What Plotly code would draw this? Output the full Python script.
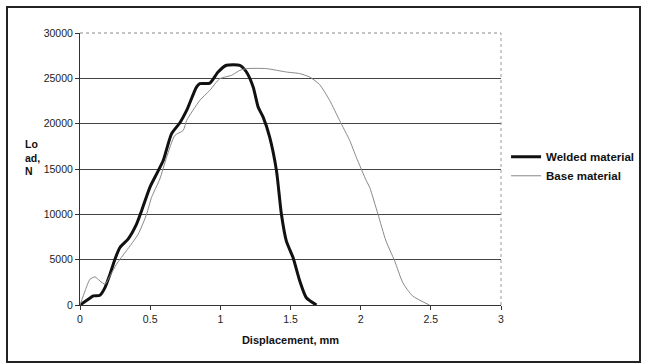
import plotly.graph_objects as go

welded_x = [0, 0.059, 0.095, 0.142, 0.178, 0.214, 0.249, 0.285, 0.344, 0.403, 0.439, 0.498,
            0.546, 0.593, 0.652, 0.712, 0.76, 0.83, 0.854, 0.925, 0.984, 1.044, 1.139, 1.186,
            1.234, 1.27, 1.305, 1.352, 1.40, 1.435, 1.47, 1.518, 1.566, 1.613, 1.685]
welded_y = [0, 630, 1000, 1070, 1910, 3400, 5050, 6340, 7300, 8920, 10400, 12980,
            14460, 15930, 18880, 20100, 21460, 24040, 24410, 24470, 25700, 26440, 26440, 25700,
            24040, 21800, 20720, 18500, 14820, 10030, 7080, 5230, 2650, 800, 0]

base_x = [0, 0.036, 0.071, 0.107, 0.142, 0.178, 0.214, 0.26, 0.33, 0.415, 0.475, 0.51, 0.569,
          0.617, 0.676, 0.735, 0.76, 0.854, 0.925, 0.996, 1.08, 1.139, 1.186, 1.329, 1.47,
          1.566, 1.637, 1.708, 1.779, 1.85, 1.922, 1.969, 2.04, 2.064, 2.123, 2.18, 2.242,
          2.30, 2.37, 2.49]
base_y = [0, 1550, 2840, 3100, 2650, 2290, 3210, 4500, 5970, 7820, 10030, 11870, 13900,
          16290, 18700, 19250, 20350, 22570, 23670, 24960, 25330, 25880, 26070, 26070, 25700,
          25520, 25140, 24300, 22570, 20350, 18140, 16290, 13720, 12980, 10030, 7080, 4870,
          2470, 1000, 0]

x_ticks = [0, 0.5, 1, 1.5, 2, 2.5, 3]
y_ticks = [0, 5000, 10000, 15000, 20000, 25000, 30000]

fig = go.Figure()
fig.add_trace(go.Scatter(x=welded_x, y=welded_y, mode="lines", name="<b>Welded material</b>",
                         line=dict(color="#111111", width=3, shape="spline", smoothing=0.6)))
fig.add_trace(go.Scatter(x=base_x, y=base_y, mode="lines", name="<b>Base material</b>",
                         line=dict(color="#888888", width=1, shape="spline", smoothing=0.6)))

fig.update_layout(
    width=645, height=364,
    margin=dict(l=80, r=144, t=33, b=59, autoexpand=False),
    paper_bgcolor="white", plot_bgcolor="white",
    font=dict(family="Arial, Liberation Sans, sans-serif", size=10.5, color="#222222"),
    showlegend=True,
    legend=dict(x=1.012, y=0.51, xanchor="left", yanchor="middle",
                font=dict(size=11.5, color="#111111", family="Arial, Liberation Sans, sans-serif"),
                bgcolor="rgba(0,0,0,0)", tracegroupgap=2),
    xaxis=dict(range=[0, 3], tickvals=x_ticks, ticktext=[str(v) for v in x_ticks],
               showgrid=False, zeroline=False, showline=True, linecolor="#333333", linewidth=1,
               ticks="outside", ticklen=4, tickcolor="#333333",
               title=dict(text="<b>Displacement, mm</b>", font=dict(size=11, color="#111111"), standoff=12)),
    yaxis=dict(range=[0, 30000], tickvals=y_ticks, ticktext=[str(v) for v in y_ticks],
               showgrid=True, gridcolor="#444444", gridwidth=1, zeroline=False,
               showline=True, linecolor="#333333", linewidth=1,
               ticks="outside", ticklen=4, tickcolor="#333333"),
    shapes=[
        dict(type="line", xref="paper", yref="paper", x0=0.002, x1=1, y0=1, y1=1,
             line=dict(color="white", width=2)),
        dict(type="line", xref="paper", yref="paper", x0=0, x1=1, y0=1, y1=1,
             line=dict(color="#888888", width=1, dash="dot")),
        dict(type="line", xref="paper", yref="paper", x0=1, x1=1, y0=0, y1=1,
             line=dict(color="#999999", width=1, dash="dot")),
        dict(type="rect", xref="paper", yref="paper",
             x0=(7 - 80) / 421, x1=(640 - 80) / 421, y0=(305 - 362) / 272, y1=(305 - 7) / 272,
             line=dict(color="#222222", width=2)),
    ],
    annotations=[
        dict(text="<b>Lo<br>ad,<br>N</b>", xref="paper", yref="paper",
             x=(23 - 80) / 421, y=(305 - 157) / 272, xanchor="left", yanchor="middle",
             showarrow=False, align="left", font=dict(size=10.5, color="#111111")),
    ],
)

fig.write_html("out.html", config={"displayModeBar": False},
               post_script="document.body.style.margin='0';")
